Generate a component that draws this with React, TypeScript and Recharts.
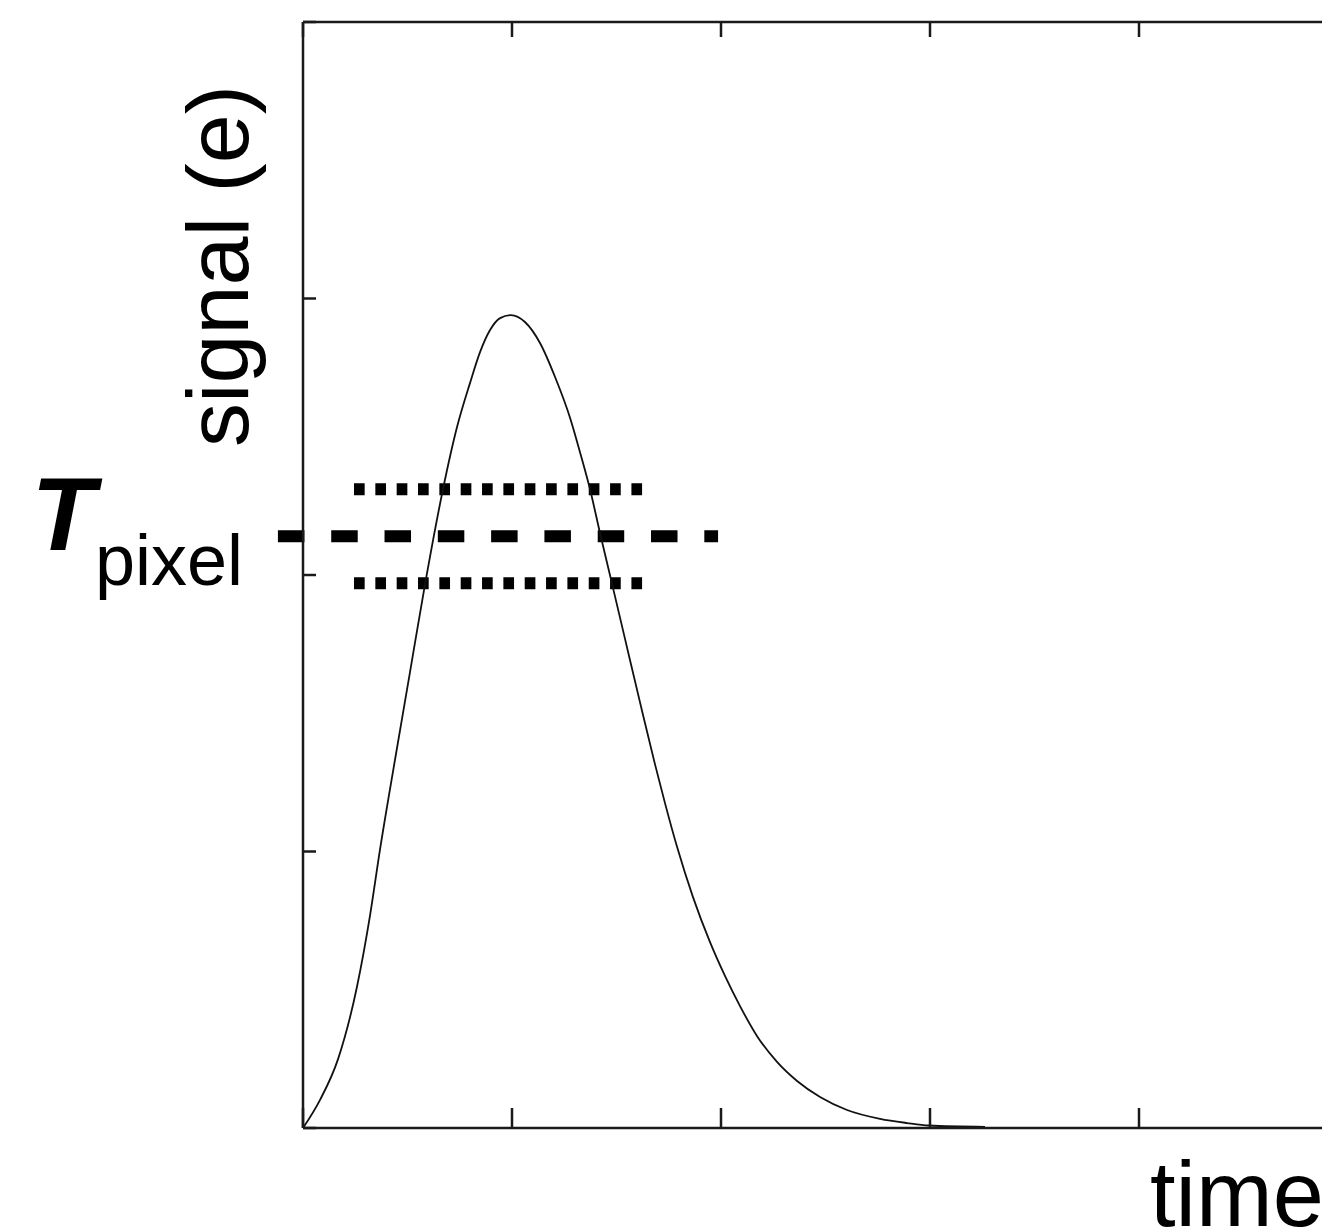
import { Line, LineChart, ReferenceLine, XAxis, YAxis } from 'recharts'

// time and signal in tick units
const timeValues = [
  0, 0.081, 0.168, 0.258, 0.321, 0.368, 0.44, 0.512, 0.584, 0.67, 0.737, 0.799, 0.847, 0.895, 0.943, 0.995, 1.062,
  1.134, 1.206, 1.278, 1.325, 1.373, 1.421, 1.479, 1.541, 1.612, 1.684, 1.732, 1.79, 1.866, 1.947, 2.019, 2.091,
  2.172, 2.268, 2.364, 2.474, 2.603, 2.761, 2.89, 2.995, 3.263,
]
const signalValues = [
  0, 0.101, 0.25, 0.51, 0.77, 1.005, 1.331, 1.649, 1.967, 2.311, 2.535, 2.694, 2.806, 2.886, 2.929, 2.94, 2.915,
  2.839, 2.716, 2.568, 2.445, 2.311, 2.152, 1.967, 1.768, 1.541, 1.316, 1.175, 1.016, 0.835, 0.673, 0.55, 0.441,
  0.333, 0.239, 0.17, 0.112, 0.065, 0.033, 0.018, 0.009, 0.004,
]

const xTicks = [0, 1, 2, 3, 4, 5]
const yTicks = [0, 1, 2, 3, 4]

// threshold and its band
const thresholdLevel = 2.14
const bandUpper = 2.31
const bandLower = 1.97
const thresholdSpan = [-0.12, 1.986]
const bandSpan = [0.244, 1.627]

const data = timeValues.map((t, i) => ({ t, signal: signalValues[i] }))

const FONT = '"Liberation Sans", Arial, Helvetica, sans-serif'
const INK = '#111'
const FRAME = '#1a1a1a'

const yLabel = () => (
  <text x={248} y={266} transform="rotate(-90 248 266)" textAnchor="middle" fontSize={88} fontFamily={FONT} fill="#000">
    signal (e)
  </text>
)

const xLabel = () => (
  <text x={1150} y={1226} fontSize={92} fontFamily={FONT} fill="#000">
    time
  </text>
)

const thresholdLabel = () => (
  <text x={243} y={550} textAnchor="end" fontFamily={FONT} fill="#000">
    <tspan fontSize={104} fontWeight="bold" fontStyle="italic">
      T
    </tspan>
    <tspan fontSize={72} dy={35}>
      pixel
    </tspan>
  </text>
)

// ticks without labels
const noTickLabel = () => <g />

const axisLine = { stroke: FRAME, strokeWidth: 2.5 }
const tickLine = { stroke: FRAME, strokeWidth: 2.5 }

export default function App() {
  return (
    <div
      style={{
        position: 'fixed',
        left: 0,
        top: 0,
        width: 1322,
        height: 1231,
        overflow: 'hidden',
        background: '#fff',
      }}
    >
      <LineChart width={1400} height={1231} data={data} margin={{ top: 0, right: 0, bottom: 0, left: 0 }}>
        <XAxis
          dataKey="t"
          type="number"
          domain={[0, 5]}
          ticks={xTicks}
          tick={noTickLabel}
          interval={0}
          height={103}
          tickSize={-20}
          stroke={FRAME}
          strokeWidth={2.5}
          axisLine={axisLine}
          tickLine={tickLine}
          label={xLabel}
        />
        <XAxis
          xAxisId="top"
          dataKey="t"
          orientation="top"
          type="number"
          domain={[0, 5]}
          ticks={xTicks}
          tick={noTickLabel}
          interval={0}
          height={22}
          tickSize={-15}
          stroke={FRAME}
          strokeWidth={2.5}
          axisLine={axisLine}
          tickLine={tickLine}
        />
        <YAxis
          type="number"
          domain={[0, 4]}
          ticks={yTicks}
          tick={noTickLabel}
          interval={0}
          width={303}
          tickSize={-13}
          stroke={FRAME}
          strokeWidth={2.5}
          axisLine={axisLine}
          tickLine={tickLine}
          label={yLabel}
        />
        <YAxis
          yAxisId="right"
          orientation="right"
          type="number"
          domain={[0, 4]}
          ticks={yTicks}
          tick={noTickLabel}
          interval={0}
          width={52}
          tickSize={-13}
          stroke={FRAME}
          strokeWidth={2.5}
          axisLine={axisLine}
          tickLine={tickLine}
        />
        <ReferenceLine
          segment={[
            { x: bandSpan[0], y: bandUpper },
            { x: bandSpan[1], y: bandUpper },
          ]}
          stroke="#000"
          strokeWidth={12}
          strokeDasharray="10.67 10.67"
          ifOverflow="visible"
        />
        <ReferenceLine
          segment={[
            { x: bandSpan[0], y: bandLower },
            { x: bandSpan[1], y: bandLower },
          ]}
          stroke="#000"
          strokeWidth={12}
          strokeDasharray="10.67 10.67"
          ifOverflow="visible"
        />
        <ReferenceLine
          segment={[
            { x: thresholdSpan[0], y: thresholdLevel },
            { x: thresholdSpan[1], y: thresholdLevel },
          ]}
          stroke="#000"
          strokeWidth={12}
          strokeDasharray="26.5 26.8"
          ifOverflow="visible"
          label={thresholdLabel}
        />
        <Line
          type="monotone"
          dataKey="signal"
          stroke={INK}
          strokeWidth={1.8}
          dot={false}
          isAnimationActive={false}
        />
      </LineChart>
    </div>
  )
}
